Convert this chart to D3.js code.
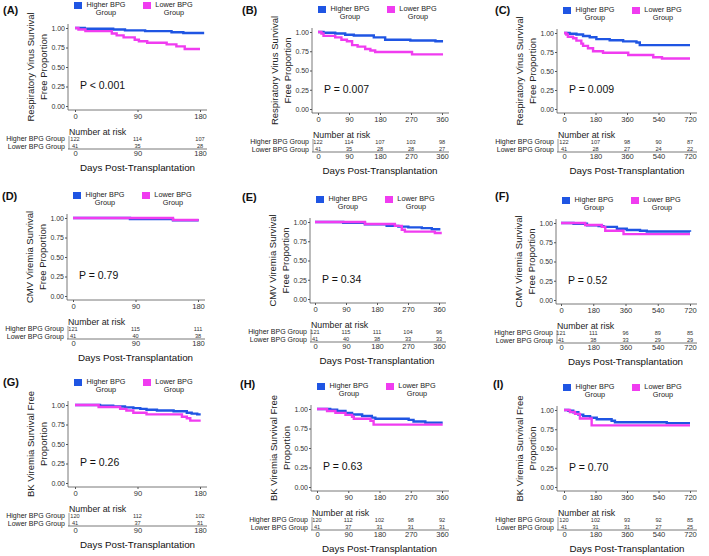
<!DOCTYPE html>
<html><head><meta charset="utf-8">
<script src="https://cdn.jsdelivr.net/npm/d3@7"></script>
<style>
body{margin:0;background:#fff;}
svg{display:block;font-family:"Liberation Sans",Arial,sans-serif;}
</style></head><body>
<svg id="chart" width="709" height="556"></svg>
<script>
// ---------- DATA ----------
const panelLetters = ["A","B","C","D","E","F","G","H","I"];
const yTitles = [
  ["Respiratory Virus Survival","Free Proportion"],
  ["CMV Viremia Survival","Free Proportion"],
  ["BK Viremia Survival Free","Proportion"]
];
const seriesNames = ["Higher BPG Group","Lower BPG Group"];
const legendLabels = [["Higher BPG","Group"],["Lower BPG","Group"]];
const xMaxByCol = [180, 360, 720];
const xTicksByCol = [[0,90,180],[0,90,180,270,360],[0,180,360,540,720]];
const yTickValues = [0,0.25,0.5,0.75,1];
const pValues = ["P < 0.001","P = 0.007","P = 0.009","P = 0.79","P = 0.34","P = 0.52","P = 0.26","P = 0.63","P = 0.70"];

// Kaplan-Meier step points [day, survival]
const higherA = [[0,1],[14,0.99],[55,0.98],[72,0.97],[101,0.96],[139,0.945],[156,0.935],[186,0.935]];
const lowerA  = [[0,1],[5,0.98],[15,0.96],[53,0.93],[60,0.905],[70,0.88],[86,0.85],[92,0.83],[104,0.81],[132,0.79],[146,0.765],[158,0.73],[180,0.73]];
const higherB = [[0,1],[16,0.99],[50,0.98],[79,0.965],[104,0.955],[162,0.93],[195,0.9],[268,0.89],[341,0.88],[363,0.88]];
const lowerB  = [[0,1],[10,0.98],[16,0.95],[50,0.93],[68,0.9],[84,0.88],[99,0.83],[115,0.81],[137,0.78],[152,0.76],[166,0.74],[273,0.71],[363,0.71]];
const higherC = [[0,1],[32,0.99],[71,0.98],[109,0.96],[147,0.945],[185,0.92],[261,0.905],[338,0.89],[414,0.875],[433,0.84],[720,0.84]];
const lowerC  = [[0,1],[13,0.98],[22,0.95],[52,0.93],[71,0.9],[99,0.86],[109,0.83],[137,0.8],[166,0.76],[223,0.74],[367,0.71],[510,0.68],[560,0.665],[720,0.665]];
const higherD = [[0,1],[82,0.985],[144,0.972],[181,0.972]];
const lowerD  = [[0,1],[144,0.975],[181,0.975]];
const higherE = [[0,1],[82,0.99],[145,0.97],[208,0.95],[242,0.94],[271,0.93],[310,0.92],[339,0.905],[364,0.905]];
const lowerE  = [[0,1],[145,0.975],[232,0.95],[252,0.9],[261,0.875],[348,0.857],[368,0.857]];
const higherF = [[0,1],[70,0.99],[145,0.97],[210,0.96],[237,0.95],[312,0.925],[367,0.91],[441,0.9],[479,0.89],[720,0.885]];
const lowerF  = [[0,1],[135,0.975],[228,0.95],[247,0.9],[349,0.855],[720,0.855]];
const higherG = [[0,1],[36,0.99],[55,0.98],[72,0.97],[84,0.96],[94,0.95],[103,0.94],[118,0.93],[142,0.92],[161,0.9],[168,0.89],[176,0.88],[181,0.88]];
const lowerG  = [[0,1],[34,0.975],[65,0.95],[74,0.93],[84,0.9],[103,0.88],[154,0.85],[161,0.83],[166,0.8],[181,0.8]];
const higherH = [[0,1],[38,0.99],[58,0.975],[82,0.95],[101,0.93],[130,0.91],[158,0.89],[168,0.875],[264,0.86],[278,0.84],[312,0.825],[362,0.825]];
const lowerH  = [[0,1],[29,0.975],[53,0.95],[82,0.925],[101,0.9],[106,0.875],[154,0.85],[163,0.8],[362,0.8]];
const higherI = [[0,1],[25,0.99],[53,0.97],[82,0.94],[110,0.92],[149,0.9],[187,0.88],[272,0.86],[291,0.84],[587,0.83],[720,0.83]];
const lowerI  = [[0,1],[34,0.975],[63,0.95],[91,0.89],[158,0.8],[720,0.8]];

// Numbers at risk
const riskHigherA = [122,114,107];           const riskLowerA = [41,35,28];
const riskHigherB = [122,114,107,103,98];    const riskLowerB = [41,35,28,28,27];
const riskHigherC = [122,107,98,90,87];      const riskLowerC = [41,28,27,24,22];
const riskHigherD = [121,115,111];           const riskLowerD = [41,40,38];
const riskHigherE = [121,115,111,104,96];    const riskLowerE = [41,40,38,33,33];
const riskHigherF = [121,111,96,89,85];      const riskLowerF = [41,38,33,29,29];
const riskHigherG = [120,112,102];           const riskLowerG = [41,37,31];
const riskHigherH = [120,112,102,98,92];     const riskLowerH = [41,37,31,31,31];
const riskHigherI = [120,102,93,92,85];      const riskLowerI = [41,31,31,27,25];

const higherCurves = [higherA,higherB,higherC,higherD,higherE,higherF,higherG,higherH,higherI];
const lowerCurves  = [lowerA,lowerB,lowerC,lowerD,lowerE,lowerF,lowerG,lowerH,lowerI];
const riskHigher = [riskHigherA,riskHigherB,riskHigherC,riskHigherD,riskHigherE,riskHigherF,riskHigherG,riskHigherH,riskHigherI];
const riskLower  = [riskLowerA,riskLowerB,riskLowerC,riskLowerD,riskLowerE,riskLowerF,riskLowerG,riskLowerH,riskLowerI];

// ---------- LAYOUT ----------
const layout = [
  {axisX:68, left:75, right:200, top:28, bottom:106, lx:3, ly:14},
  {axisX:312,left:318,right:442, top:32, bottom:109, lx:242, ly:14},
  {axisX:557,left:564,right:690, top:33, bottom:109, lx:495, ly:14},
  {axisX:67, left:73, right:198, top:218,bottom:296, lx:2, ly:200},
  {axisX:310,left:315,right:439, top:222,bottom:299, lx:242, ly:201},
  {axisX:556,left:561,right:690, top:223,bottom:300, lx:495, ly:200},
  {axisX:68, left:75, right:200, top:405,bottom:483, lx:3, ly:386},
  {axisX:311,left:317,right:442, top:409,bottom:487, lx:240, ly:388},
  {axisX:557,left:564,right:690, top:410,bottom:487, lx:493, ly:388}
];
const colors = ["#1f55e3","#f03cf0"];
const axisColor = "#555";
const textColor = "#222";
const FONT = "Liberation Sans, Arial, sans-serif";

const svg = d3.select("#chart");

panelLetters.forEach((letter, i) => {
  const L = layout[i];
  const col = i % 3, row = Math.floor(i / 3);
  const g = svg.append("g");
  const x = d3.scaleLinear().domain([0, xMaxByCol[col]]).range([L.left, L.right]);
  const y = d3.scaleLinear().domain([0, 1]).range([L.bottom, L.top]);
  const xEnd = L.right + 7;
  const axisY = L.bottom + 4;

  // panel label
  g.append("text").attr("x", L.lx).attr("y", L.ly).attr("font-size", 11).attr("font-weight", "bold")
    .attr("fill", "#111").text("(" + letter + ")");

  // legend
  const legX = [L.axisX + 6, L.axisX + 75];
  const txtX = [L.axisX + 38, L.axisX + 106];
  [0,1].forEach(k => {
    g.append("rect").attr("x", legX[k]).attr("y", L.top - 26).attr("width", 8).attr("height", 7).attr("fill", colors[k]);
    legendLabels[k].forEach((t, j) => {
      g.append("text").attr("x", txtX[k]).attr("y", L.top - 23.5 + j * 8).attr("dy", "0.35em")
        .attr("text-anchor", "middle").attr("font-size", 7.3).attr("fill", textColor).text(t);
    });
  });

  // y axis
  const yAxis = d3.axisLeft(y).tickValues(yTickValues).tickFormat(d3.format(".2f")).tickSize(2).tickSizeOuter(0);
  const ya = g.append("g").attr("transform", `translate(${L.axisX},0)`).call(yAxis);
  ya.select(".domain").remove();
  ya.selectAll("line").attr("stroke", axisColor);
  ya.selectAll("text").attr("font-size", 7).attr("fill", "#333").attr("x", -3)
    .attr("font-family", FONT);
  g.append("line").attr("x1", L.axisX).attr("x2", L.axisX).attr("y1", L.top - 4).attr("y2", axisY)
    .attr("stroke", axisColor).attr("stroke-width", 0.8);

  // x axis
  const xAxis = d3.axisBottom(x).tickValues(xTicksByCol[col]).tickSize(2).tickSizeOuter(0);
  const xa = g.append("g").attr("transform", `translate(0,${axisY})`).call(xAxis);
  xa.select(".domain").remove();
  xa.selectAll("line").attr("stroke", axisColor);
  xa.selectAll("text").attr("font-size", 7.6).attr("fill", "#333").attr("y", 3.5)
    .attr("font-family", FONT);
  g.append("line").attr("x1", L.axisX).attr("x2", xEnd).attr("y1", axisY).attr("y2", axisY)
    .attr("stroke", axisColor).attr("stroke-width", 0.8);

  // y title
  const cy = (L.top + L.bottom) / 2;
  yTitles[row].forEach((t, j) => {
    g.append("text").attr("transform", `translate(${L.axisX - 37 + j * 13},${cy}) rotate(-90)`)
      .attr("text-anchor", "middle").attr("dy", "0.35em").attr("font-size", 9.5).attr("fill", textColor).text(t);
  });

  // curves
  const line = d3.line().x(d => x(d[0])).y(d => y(d[1])).curve(d3.curveStepAfter);
  [higherCurves[i], lowerCurves[i]].forEach((c, k) => {
    g.append("path").datum(c).attr("d", line).attr("fill", "none").attr("stroke", colors[k])
      .attr("stroke-width", 2.4);
  });

  // p value
  g.append("text").attr("x", L.axisX + 12).attr("y", y(0.26)).attr("dy", "0.35em")
    .attr("font-size", 10.5).attr("fill", "#111").text(pValues[i]);

  // risk table
  const b = L.bottom;
  g.append("text").attr("x", L.axisX + 1).attr("y", b + 26).attr("dy", "0.35em")
    .attr("font-size", 8.8).attr("fill", textColor).text("Number at risk");
  const rowY = [b + 32.8, b + 40.2];
  seriesNames.forEach((s, k) => {
    g.append("text").attr("x", L.axisX - 3).attr("y", rowY[k]).attr("dy", "0.35em")
      .attr("text-anchor", "end").attr("font-size", 7).attr("fill", textColor).text(s);
  });
  [riskHigher[i], riskLower[i]].forEach((vals, k) => {
    g.selectAll(null).data(vals).enter().append("text")
      .attr("x", (d, j) => x(xTicksByCol[col][j])).attr("y", rowY[k]).attr("dy", "0.35em")
      .attr("text-anchor", "middle").attr("font-size", 5.6).attr("fill", "#333").text(d => d);
  });
  g.append("line").attr("x1", L.axisX + 1).attr("x2", L.axisX + 1).attr("y1", b + 30).attr("y2", b + 43)
    .attr("stroke", axisColor).attr("stroke-width", 0.6);
  const rAxis = d3.axisBottom(x).tickValues(xTicksByCol[col]).tickSize(0).tickPadding(2);
  const ra = g.append("g").attr("transform", `translate(0,${b + 43})`).call(rAxis);
  ra.select(".domain").remove();
  ra.selectAll("text").attr("font-size", 7.6).attr("fill", "#333")
    .attr("font-family", FONT);
  g.append("line").attr("x1", L.axisX).attr("x2", xEnd).attr("y1", b + 43).attr("y2", b + 43)
    .attr("stroke", axisColor).attr("stroke-width", 0.8);

  g.append("text").attr("x", (L.left + L.right) / 2).attr("y", b + 62).attr("dy", "0.35em")
    .attr("text-anchor", "middle").attr("font-size", 9.8).attr("fill", "#111").text("Days Post-Transplantation");
});
</script>
</body></html>
